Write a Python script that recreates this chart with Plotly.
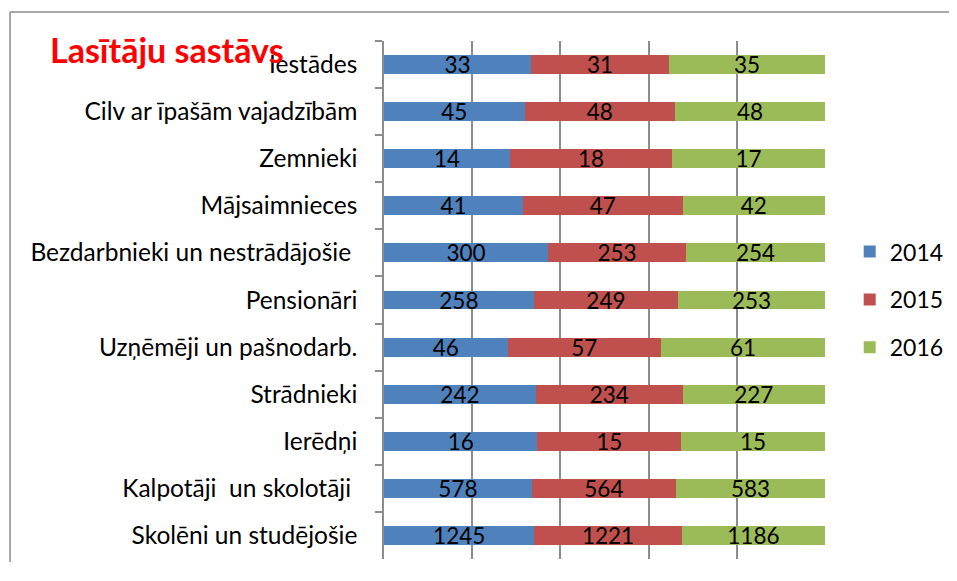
import plotly.graph_objects as go

categories = ["Iestādes", "Cilv ar īpašām vajadzībām", "Zemnieki", "Mājsaimnieces",
              "Bezdarbnieki un nestrādājošie ", "Pensionāri", "Uzņēmēji un pašnodarb.",
              "Strādnieki", "Ierēdņi", "Kalpotāji  un skolotāji ", "Skolēni un studējošie"]
v2014 = [33, 45, 14, 41, 300, 258, 46, 242, 16, 578, 1245]
v2015 = [31, 48, 18, 47, 253, 249, 57, 234, 15, 564, 1221]
v2016 = [35, 48, 17, 42, 254, 253, 61, 227, 15, 583, 1186]
series = [("2014", v2014, "#4F81BD"), ("2015", v2015, "#C0504D"), ("2016", v2016, "#9BBB59")]

FONT = "Lato, Carlito, Calibri, sans-serif"

fig = go.Figure()
for name, vals, col in series:
    fig.add_trace(go.Bar(
        y=categories, x=vals, name=name, orientation="h",
        marker=dict(color=col, line=dict(width=0)),
        text=[str(v) for v in vals], textposition="inside", textangle=0,
        insidetextanchor="middle", constraintext="none",
        textfont=dict(color="black", size=22.5, family=FONT),
        legendgroup=name,
    ))

frame = dict(color="#8C8C8C", width=1.5)
fig.update_layout(
    width=941, height=554,
    barmode="stack", barnorm="percent", bargap=0.6,
    paper_bgcolor="white", plot_bgcolor="white",
    margin=dict(l=376, r=124, t=33, b=3, autoexpand=False),
    font=dict(family=FONT, size=24, color="black"),
    showlegend=True,
    legend=dict(x=1.056, y=0.635, xanchor="left", yanchor="top",
                traceorder="grouped", tracegroupgap=15,
                font=dict(size=23, family=FONT)),
    xaxis=dict(range=[0, 100], dtick=20, showgrid=True, gridcolor="#8C8C8C",
               gridwidth=1.5, showticklabels=False, zeroline=False, showline=False),
    yaxis=dict(autorange="reversed", showline=True, linecolor="#8C8C8C", linewidth=1.5,
               ticks="outside", ticklen=7, tickcolor="#8C8C8C", tickwidth=1.5,
               tickson="boundaries", ticklabelstandoff=20,
               tickfont=dict(size=24.5, family=FONT)),
    annotations=[dict(text="<b>Lasītāju sastāvs</b>", xref="paper", yref="paper",
                      x=-0.762, y=0.983, xanchor="left", yanchor="middle",
                      showarrow=False, font=dict(color="#FF0000", size=34, family=FONT))],
    shapes=[
        dict(type="line", xref="paper", yref="paper", x0=-0.848, x1=1.4, y0=1.056, y1=1.056, line=frame),
        dict(type="line", xref="paper", yref="paper", x0=-0.848, x1=-0.848, y0=-0.2, y1=1.056, line=frame),
    ],
)

fig.write_html("out.html", post_script="document.body.style.overflow='hidden';")
